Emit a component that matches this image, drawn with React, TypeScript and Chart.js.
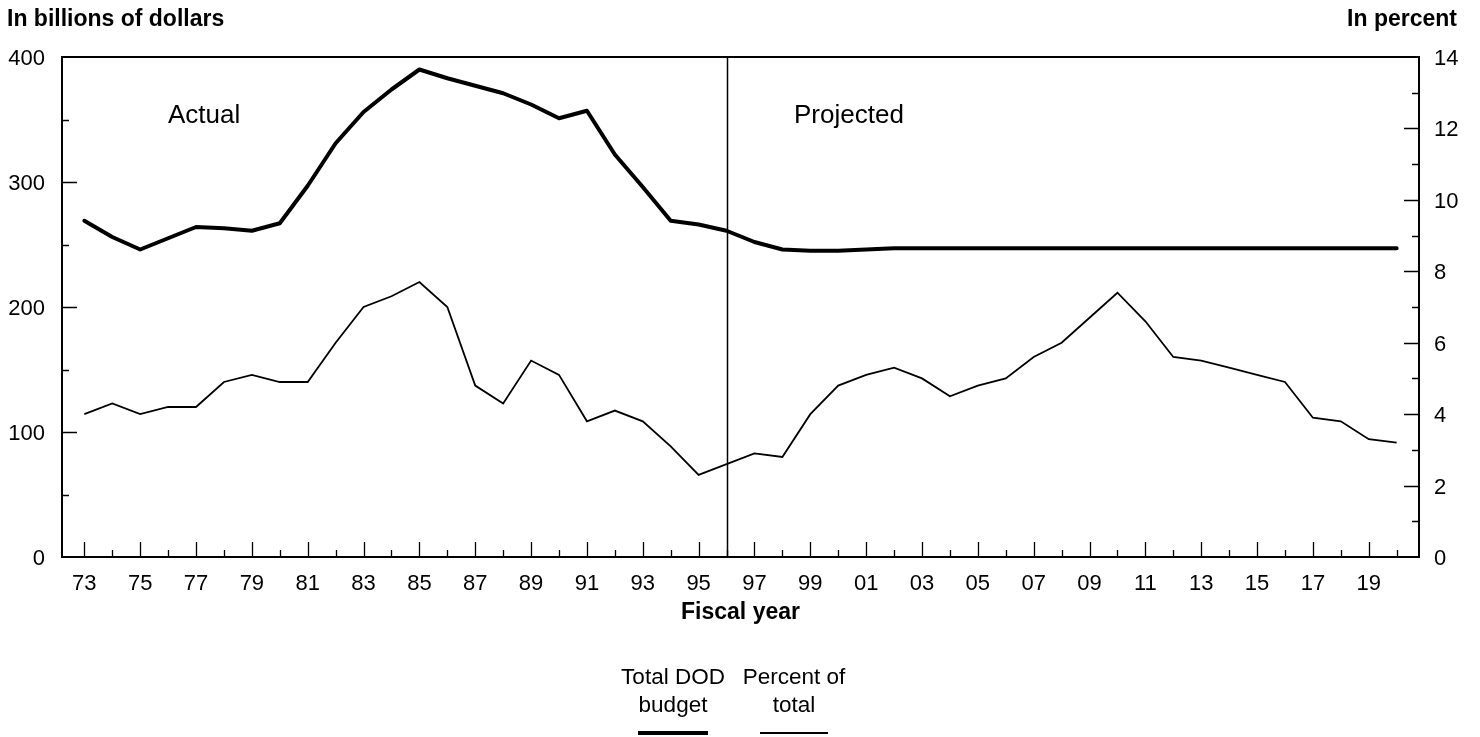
import React, { useEffect, useRef } from "react";
import { Chart, registerables } from "chart.js";

Chart.register(...registerables);

const years = [
  1973, 1974, 1975, 1976, 1977, 1978, 1979, 1980, 1981, 1982, 1983, 1984,
  1985, 1986, 1987, 1988, 1989, 1990, 1991, 1992, 1993, 1994, 1995, 1996,
  1997, 1998, 1999, 2000, 2001, 2002, 2003, 2004, 2005, 2006, 2007, 2008,
  2009, 2010, 2011, 2012, 2013, 2014, 2015, 2016, 2017, 2018, 2019, 2020,
];

const yearLabels = [
  "73", "74", "75", "76", "77", "78", "79", "80", "81", "82", "83", "84",
  "85", "86", "87", "88", "89", "90", "91", "92", "93", "94", "95", "96",
  "97", "98", "99", "00", "01", "02", "03", "04", "05", "06", "07", "08",
  "09", "10", "11", "12", "13", "14", "15", "16", "17", "18", "19", "20",
];

// Total DOD budget, billions of dollars (left axis)
const totalBudget = [
  269, 256, 246, 255, 264, 263, 261, 267, 297, 331, 356, 374,
  390, 383, 377, 371, 362, 351, 357, 322, 296, 269, 266, 261,
  252, 246, 245, 245, 246, 247, 247, 247, 247, 247, 247, 247,
  247, 247, 247, 247, 247, 247, 247, 247, 247, 247, 247, 247,
];

// Percent of total (right axis)
const percentOfTotal = [
  4.0, 4.3, 4.0, 4.2, 4.2, 4.9, 5.1, 4.9, 4.9, 6.0, 7.0, 7.3,
  7.7, 7.0, 4.8, 4.3, 5.5, 5.1, 3.8, 4.1, 3.8, 3.1, 2.3, 2.6,
  2.9, 2.8, 4.0, 4.8, 5.1, 5.3, 5.0, 4.5, 4.8, 5.0, 5.6, 6.0,
  6.7, 7.4, 6.6, 5.6, 5.5, 5.3, 5.1, 4.9, 3.9, 3.8, 3.3, 3.2,
];

const leftTicks = [0, 100, 200, 300, 400];
const rightTicks = [0, 2, 4, 6, 8, 10, 12, 14];
const projectionStartYear = 1996;

const FONT = "'Liberation Sans', Arial, Helvetica, sans-serif";

const overlayPlugin = {
  id: "overlay",
  afterDatasetsDraw(chart: any) {
    const ctx = chart.ctx;
    const { left, right, top, bottom } = chart.chartArea;
    const xs = chart.scales.x;
    const yl = chart.scales.yLeft;
    const yr = chart.scales.yRight;
    ctx.save();
    ctx.strokeStyle = "#000";

    // tick marks (inward)
    ctx.lineWidth = 1.3;
    ctx.beginPath();
    years.forEach((yv, i) => {
      const px = Math.round(xs.getPixelForValue(yv)) + 0.5;
      const len = i % 2 === 0 ? 15 : 7;
      ctx.moveTo(px, bottom);
      ctx.lineTo(px, bottom - len);
    });
    for (let v = 50; v < 400; v += 50) {
      const py = Math.round(yl.getPixelForValue(v)) + 0.5;
      const len = leftTicks.includes(v) ? 15 : 7;
      ctx.moveTo(left, py);
      ctx.lineTo(left + len, py);
    }
    for (let v = 1; v < 14; v += 1) {
      const py = Math.round(yr.getPixelForValue(v)) + 0.5;
      const len = rightTicks.includes(v) ? 15 : 7;
      ctx.moveTo(right, py);
      ctx.lineTo(right - len, py);
    }
    ctx.stroke();

    // projection divider
    const vx = Math.round(xs.getPixelForValue(projectionStartYear)) + 0.5;
    ctx.lineWidth = 1.5;
    ctx.beginPath();
    ctx.moveTo(vx, top);
    ctx.lineTo(vx, bottom);
    ctx.stroke();

    // frame
    ctx.lineWidth = 2;
    ctx.strokeRect(left, top, right - left, bottom - top);

    // texts
    ctx.fillStyle = "#000";
    ctx.textBaseline = "alphabetic";
    ctx.font = `bold 23px ${FONT}`;
    ctx.textAlign = "left";
    ctx.fillText("In billions of dollars", 7, 26);
    ctx.textAlign = "right";
    ctx.fillText("In percent", 1457, 26);
    ctx.textAlign = "center";
    ctx.fillText("Fiscal year", (left + right) / 2, 619);

    ctx.font = `26px ${FONT}`;
    ctx.textAlign = "left";
    ctx.fillText("Actual", 168, 123);
    ctx.fillText("Projected", 794, 123);

    // legend
    ctx.font = `22.5px ${FONT}`;
    ctx.textAlign = "center";
    ctx.fillText("Total DOD", 673, 684);
    ctx.fillText("budget", 673, 712);
    ctx.fillText("Percent of", 794, 684);
    ctx.fillText("total", 794, 712);
    ctx.lineCap = "butt";
    ctx.lineWidth = 4;
    ctx.beginPath();
    ctx.moveTo(638, 733);
    ctx.lineTo(708, 733);
    ctx.stroke();
    ctx.lineWidth = 1.8;
    ctx.beginPath();
    ctx.moveTo(760, 733);
    ctx.lineTo(828, 733);
    ctx.stroke();
    ctx.restore();
  },
};

export default function App() {
  const canvasRef = useRef<HTMLCanvasElement | null>(null);

  useEffect(() => {
    if (!canvasRef.current) return;
    const chart = new Chart(canvasRef.current, {
      type: "line",
      data: {
        datasets: [
          {
            label: "Total DOD budget",
            data: years.map((yv, i) => ({ x: yv, y: totalBudget[i] })),
            yAxisID: "yLeft",
            borderColor: "#000",
            borderWidth: 4,
            pointRadius: 0,
            tension: 0,
            borderJoinStyle: "round",
            borderCapStyle: "round",
            fill: false,
          },
          {
            label: "Percent of total",
            data: years.map((yv, i) => ({ x: yv, y: percentOfTotal[i] })),
            yAxisID: "yRight",
            borderColor: "#000",
            borderWidth: 1.8,
            pointRadius: 0,
            tension: 0,
            fill: false,
          },
        ],
      },
      options: {
        responsive: false,
        animation: false,
        events: [],
        layout: { padding: { top: 57, left: 0, right: 0, bottom: 0 } },
        plugins: {
          legend: { display: false },
          title: { display: false },
          tooltip: { enabled: false },
        },
        scales: {
          x: {
            type: "linear",
            position: "bottom",
            min: 1972.2,
            max: 2020.8,
            grid: { display: false, drawTicks: false },
            border: { display: false },
            ticks: {
              stepSize: 1,
              includeBounds: false,
              autoSkip: false,
              maxRotation: 0,
              padding: 14,
              color: "#000",
              font: { size: 22, family: FONT },
              callback: (v: any) => {
                const idx = years.indexOf(Number(v));
                return idx >= 0 && idx % 2 === 0 ? yearLabels[idx] : "";
              },
            },
            afterFit: (s: any) => {
              s.height = 180;
            },
          },
          yLeft: {
            type: "linear",
            position: "left",
            min: 0,
            max: 400,
            grid: { display: false, drawTicks: false },
            border: { display: false },
            ticks: {
              stepSize: 50,
              padding: 17,
              labelOffset: 2,
              color: "#000",
              font: { size: 22, family: FONT },
              callback: (v: any) =>
                leftTicks.includes(Number(v)) ? String(v) : "",
            },
            afterFit: (s: any) => {
              s.width = 62;
            },
          },
          yRight: {
            type: "linear",
            position: "right",
            min: 0,
            max: 14,
            grid: { display: false, drawTicks: false },
            border: { display: false },
            ticks: {
              stepSize: 1,
              padding: 15,
              labelOffset: 2,
              color: "#000",
              font: { size: 22, family: FONT },
              callback: (v: any) =>
                rightTicks.includes(Number(v)) ? String(v) : "",
            },
            afterFit: (s: any) => {
              s.width = 61;
            },
          },
        },
      },
      plugins: [overlayPlugin],
    });
    return () => chart.destroy();
  }, []);

  return (
    <div
      style={{
        position: "absolute",
        left: 0,
        top: 0,
        width: 1480,
        height: 737,
        background: "#fff",
      }}
    >
      <canvas
        ref={canvasRef}
        width={1480}
        height={737}
        style={{ display: "block", width: 1480, height: 737 }}
      />
    </div>
  );
}
